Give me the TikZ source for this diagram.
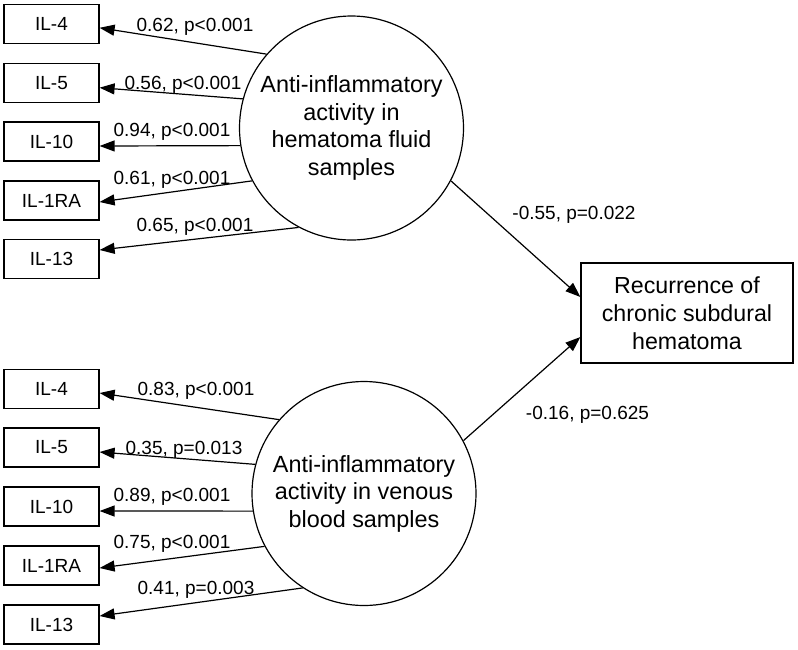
\documentclass[tikz,border=0pt]{standalone}
\usepackage{fontspec}
\setmainfont{Liberation Sans}
\usetikzlibrary{arrows.meta}
\begin{document}
\begin{tikzpicture}[x=1pt,y=-1pt, line width=1.2pt,
  box/.style={draw, rectangle, minimum width=95pt, minimum height=39pt, inner sep=0pt, font=\fontsize{19}{22}\selectfont},
  lat/.style={draw, circle, minimum size=224pt, inner sep=0pt, align=center, font=\fontsize{23.4}{27.5}\selectfont},
  outc/.style={draw, rectangle, minimum width=212pt, minimum height=100pt, inner sep=0pt, align=center, font=\fontsize{23.2}{28}\selectfont},
  lbl/.style={anchor=base, inner sep=0pt, font=\fontsize{19}{22}\selectfont},
  arr/.style={-{Triangle[length=15pt,width=11pt]}, line width=1.2pt}]
\useasboundingbox (0,0) rectangle (798,649);

% top group
\node[box] (a1) at (51.5,23.8) {IL-4};
\node[box] (a2) at (51.5,82.7) {IL-5};
\node[box] (a3) at (51.5,141.5) {IL-10};
\node[box] (a4) at (51.5,200.5) {IL-1RA};
\node[box] (a5) at (51.5,259) {IL-13};
\node[lat] (hem) at (351.5,128) {Anti-inflammatory\\activity in\\hematoma fluid\\samples};

% bottom group
\node[box] (b1) at (51.5,389) {IL-4};
\node[box] (b2) at (51.5,447.5) {IL-5};
\node[box] (b3) at (51.5,506.5) {IL-10};
\node[box] (b4) at (51.5,565.5) {IL-1RA};
\node[box] (b5) at (51.5,624.5) {IL-13};
\node[lat] (ven) at (364,493.5) {Anti-inflammatory\\activity in venous\\blood samples};

% outcome
\node[outc] (rec) at (687,313) {Recurrence of\\chronic subdural\\hematoma};

% arrows top
\draw[arr] (hem.139) -- ([yshift=-4pt]a1.east);
\draw[arr] (hem.165) -- ([yshift=-5pt]a2.east);
\draw[arr] (hem.189) -- ([yshift=-4.5pt]a3.east);
\draw[arr] (hem.208) -- ([yshift=-1.5pt]a4.east);
\draw[arr] (hem.242) -- ([yshift=9pt]a5.east);

% arrows bottom
\draw[arr] (ven.139) -- ([yshift=-4pt]b1.east);
\draw[arr] (ven.165) -- ([yshift=-4.5pt]b2.east);
\draw[arr] (ven.189) -- ([yshift=-4.5pt]b3.east);
\draw[arr] (ven.208) -- ([yshift=-2.5pt]b4.east);
\draw[arr] (ven.237) -- ([yshift=8.5pt]b5.east);

% arrows to outcome
\draw[arr] (hem.-28) -- ([yshift=16pt]rec.west);
\draw[arr] (ven.28) -- ([yshift=-24pt]rec.west);

% labels top
\node[lbl] (la1) at (195,31.8) {0.62, p<0.001};
\node[lbl] (la2) at (183,89.8) {0.56, p<0.001};
\node[lbl] (la3) at (172,136.8) {0.94, p<0.001};
\node[lbl] (la4) at (172,184.8) {0.61, p<0.001};
\node[lbl] (la5) at (195,231.8) {0.65, p<0.001};

% labels bottom
\node[lbl] (lb1) at (196,395.8) {0.83, p<0.001};
\node[lbl] (lb2) at (184,454.8) {0.35, p=0.013};
\node[lbl] (lb3) at (172,501.8) {0.89, p<0.001};
\node[lbl] (lb4) at (172,548.8) {0.75, p<0.001};
\node[lbl] (lb5) at (196,594.8) {0.41, p=0.003};

% labels right
\node[lbl] (lr1) at (574,219.8) {-0.55, p=0.022};
\node[lbl] (lr2) at (587.5,419.8) {-0.16, p=0.625};
\end{tikzpicture}
\end{document}
